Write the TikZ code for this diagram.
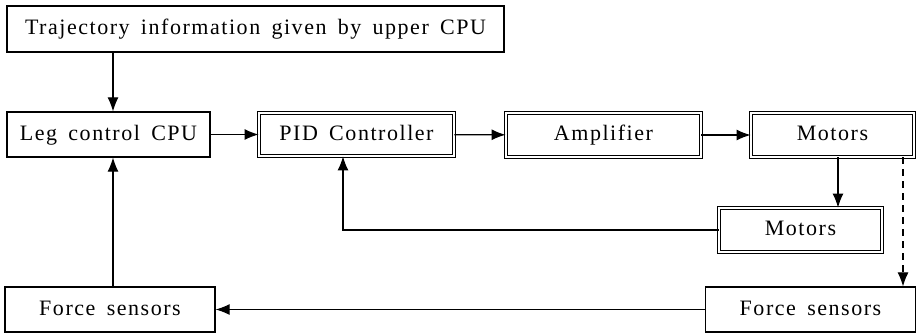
\documentclass[tikz,border=0pt]{standalone}
\usepackage{fontspec}
\setmainfont{Liberation Serif}[LetterSpace=7,WordSpace=1.6]
\usetikzlibrary{arrows.meta}
\begin{document}
\begin{tikzpicture}[x=1pt,y=-1pt,
  >={Latex[length=14pt,width=11pt]},
  box/.style={draw,line width=1.2pt,inner sep=0pt,text height=15pt,text depth=4pt,font=\fontsize{22}{26}\selectfont},
  dbox/.style={box,double,double distance=2pt,line width=0.9pt},
  arr/.style={line width=1.1pt,->}]
\useasboundingbox (0,0) rectangle (916,333);
\node[box,minimum width=497pt,minimum height=46pt] (top) at (255.5,29) {Trajectory information given by upper CPU};
\node[box,minimum width=203pt,minimum height=45pt] (leg) at (108.5,134.5) {Leg control CPU};
\node[dbox,minimum width=195pt,minimum height=43pt] (pid) at (356.5,134.5) {PID Controller};
\node[dbox,minimum width=195pt,minimum height=44pt] (amp) at (603.5,135) {Amplifier};
\node[dbox,minimum width=163pt,minimum height=44pt] (mot1) at (832.5,135) {Motors};
\node[dbox,minimum width=163pt,minimum height=44pt] (mot2) at (800.5,230) {Motors};
\node[box,minimum width=210pt,minimum height=45pt] (fsl) at (110,309.5) {Force sensors};
\node[box,minimum width=210pt,minimum height=45pt] (fsr) at (810.5,309.5) {Force sensors};
\coordinate (xa) at (113,0);
\coordinate (xb) at (343,0);
\coordinate (xc) at (838,0);
\coordinate (xd) at (903,0);
\draw[arr] (top.south -| xa) -- (leg.north -| xa);
\draw[arr] (leg) -- (pid);
\draw[arr] (pid) -- (amp);
\draw[arr] (amp) -- (mot1);
\draw[arr] (mot1.south -| xc) -- (mot2.north -| xc);
\draw[arr] (mot2.west) -| (pid.south -| xb);
\draw[arr,dash pattern=on 7pt off 5pt] (mot1.south -| xd) -- (fsr.north -| xd);
\draw[arr] (fsr) -- (fsl);
\draw[arr] (fsl.north -| xa) -- (leg.south -| xa);
\end{tikzpicture}
\end{document}
